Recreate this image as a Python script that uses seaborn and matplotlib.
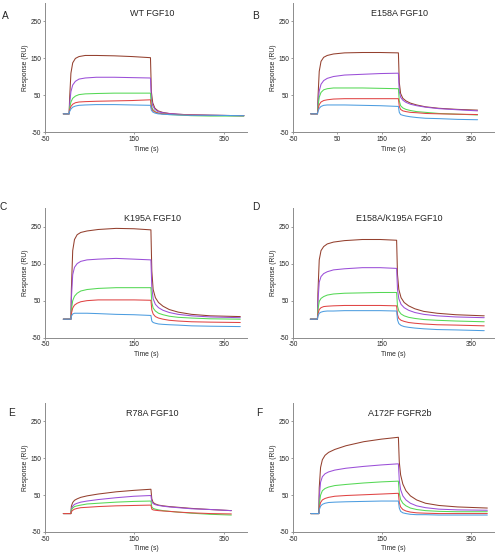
import pandas as pd
import matplotlib
import matplotlib.pyplot as plt
import seaborn as sns

matplotlib.use('Agg')

# Sensorgram colours (highest to lowest concentration)
COLORS = ['#94402e', '#9b4fd8', '#55d855', '#e04444', '#4d9de0']
CONC = ['c5', 'c4', 'c3', 'c2', 'c1']

# --- Panel A: WT FGF10 ---
time_a = [-9, 4, 5, 8, 12, 18, 26, 40, 65, 105, 145, 186,
          188, 191, 196, 203, 213, 227, 247, 277, 320, 395]
resp_a = [
    [0, 0, 40, 110, 138, 150, 155, 158, 158, 157, 155, 152, 60, 30, 15, 8, 4, 1, -1, -3, -4, -5],
    [0, 0, 25, 60, 78, 88, 94, 97, 99, 99, 98, 97, 40, 22, 12, 6, 3, 1, -1, -3, -4, -5],
    [0, 0, 15, 32, 42, 48, 52, 54, 55, 56, 56, 56, 22, 12, 6, 2, 0, -2, -3, -5, -6, -6],
    [0, 0, 10, 20, 26, 30, 32, 33, 34, 35, 36, 38, 16, 9, 5, 2, 0, -1, -2, -3, -4, -5],
    [0, 0, 6, 13, 18, 21, 23, 24, 25, 25, 24, 23, 10, 5, 2, 0, -1, -2, -3, -4, -4, -5],
]

# --- Panel B: E158A FGF10 ---
time_b = [-10, 5, 6, 9, 13, 19, 27, 41, 66, 106, 146, 187,
          189, 192, 197, 204, 214, 228, 248, 278, 320, 365]
resp_b = [
    [0, 0, 40, 115, 142, 153, 158, 162, 165, 166, 166, 165, 85, 55, 42, 35, 29, 24, 19, 15, 12, 10],
    [0, 0, 25, 62, 80, 90, 96, 101, 105, 107, 109, 110, 60, 45, 37, 31, 26, 22, 18, 14, 11, 8],
    [0, 0, 18, 45, 58, 65, 68, 70, 70, 70, 69, 68, 35, 22, 16, 12, 9, 6, 4, 1, -1, -3],
    [0, 0, 10, 25, 32, 36, 38, 40, 41, 41, 41, 41, 20, 12, 8, 6, 4, 3, 1, 0, -1, -2],
    [0, 0, 6, 15, 20, 23, 24, 24, 24, 23, 22, 20, 4, -2, -4, -6, -8, -10, -12, -13, -15, -16],
]

# --- Panel C: K195A FGF10 ---
time_c = [-9, 8, 9, 12, 16, 22, 30, 44, 69, 109, 149, 187,
          189, 192, 197, 204, 214, 228, 248, 278, 320, 387]
resp_c = [
    [0, 0, 80, 185, 215, 228, 234, 238, 242, 245, 244, 241, 130, 80, 58, 45, 35, 26, 19, 13, 9, 7],
    [0, 0, 55, 120, 140, 150, 156, 160, 162, 164, 162, 160, 85, 55, 40, 31, 24, 18, 13, 9, 6, 4],
    [0, 0, 25, 50, 62, 70, 76, 80, 83, 85, 85, 85, 45, 30, 22, 16, 12, 8, 5, 3, 1, 0],
    [0, 0, 15, 30, 38, 43, 47, 50, 52, 52, 52, 51, 25, 14, 7, 3, 0, -3, -5, -7, -8, -9],
    [0, 0, 8, 14, 16, 16, 16, 16, 15, 13, 12, 10, -5, -9, -11, -13, -14, -15, -16, -18, -19, -20],
]

# --- Panel D: E158A/K195A FGF10 ---
time_d = [-11, 5, 6, 9, 13, 19, 27, 41, 66, 106, 146, 183,
          185, 188, 193, 200, 210, 224, 244, 274, 316, 380]
resp_d = [
    [0, 0, 70, 160, 185, 196, 203, 208, 212, 215, 215, 213, 120, 80, 58, 45, 36, 28, 21, 16, 12, 9],
    [0, 0, 45, 100, 115, 123, 128, 133, 136, 139, 139, 137, 80, 55, 40, 31, 24, 18, 13, 9, 6, 4],
    [0, 0, 25, 48, 56, 61, 65, 68, 70, 71, 72, 72, 35, 22, 14, 9, 5, 2, -1, -3, -5, -7],
    [0, 0, 14, 26, 31, 34, 35, 36, 37, 37, 37, 36, 12, 2, -3, -6, -9, -11, -13, -15, -16, -18],
    [0, 0, 8, 16, 19, 21, 22, 22, 23, 23, 23, 22, -2, -12, -17, -20, -22, -24, -26, -28, -29, -31],
]

# --- Panel E: R78A FGF10 ---
time_e = [-9, 8, 9, 12, 16, 22, 30, 44, 69, 109, 149, 187,
          189, 192, 197, 204, 214, 228, 248, 278, 320, 367]
resp_e = [
    [0, 0, 20, 30, 36, 40, 44, 48, 53, 59, 63, 66, 40, 30, 26, 23, 21, 19, 17, 14, 11, 8],
    [0, 0, 13, 20, 25, 28, 31, 34, 38, 43, 47, 49, 32, 27, 24, 22, 20, 18, 16, 13, 11, 8],
    [0, 0, 10, 15, 19, 21, 23, 26, 28, 31, 33, 34, 18, 14, 12, 10, 8, 6, 4, 1, -2, -4],
    [0, 0, 5, 9, 12, 14, 16, 17, 19, 21, 22, 23, 12, 10, 9, 8, 7, 6, 4, 2, 0, -1],
]

# --- Panel F: A172F FGFR2b ---
time_f = [-10, 8, 9, 12, 16, 22, 30, 44, 69, 109, 149, 187,
          189, 192, 197, 204, 214, 228, 248, 278, 320, 387]
resp_f = [
    [0, 0, 70, 125, 146, 158, 166, 174, 184, 195, 202, 207, 140, 105, 80, 62, 48, 37, 28, 22, 18, 15],
    [0, 0, 45, 85, 100, 108, 113, 118, 123, 128, 132, 135, 90, 65, 48, 37, 28, 21, 16, 12, 10, 9],
    [0, 0, 25, 50, 62, 68, 72, 76, 79, 83, 86, 88, 55, 38, 28, 21, 15, 11, 8, 6, 5, 5],
    [0, 0, 15, 30, 37, 41, 44, 47, 49, 51, 53, 55, 30, 18, 11, 7, 4, 2, 1, 0, 0, 0],
    [0, 0, 10, 20, 25, 28, 30, 31, 32, 33, 34, 34, 15, 6, 2, 0, -2, -3, -3, -4, -4, -4],
]

PANELS = [
    ('A', 'WT FGF10', time_a, resp_a, [-50, 150, 350]),
    ('B', 'E158A FGF10', time_b, resp_b, [-50, 50, 150, 250, 350]),
    ('C', 'K195A FGF10', time_c, resp_c, [-50, 150, 350]),
    ('D', 'E158A/K195A FGF10', time_d, resp_d, [-50, 150, 350]),
    ('E', 'R78A FGF10', time_e, resp_e, [-50, 150, 350]),
    ('F', 'A172F FGFR2b', time_f, resp_f, [-50, 150, 350]),
]

sns.set_style('ticks')
plt.rcParams['font.family'] = ['Liberation Sans', 'DejaVu Sans']
plt.rcParams['axes.unicode_minus'] = False

W, H = 498, 557
fig = plt.figure(figsize=(W / 100, H / 100), dpi=100)

# axes boxes in pixels: (left, top, right, bottom)
col_px = [(45, 247), (293, 494)]
row_px = [(3, 132.3), (208, 337.7), (403, 532)]
letter_px = [(5, 15.7), (255.3, 15.7), (3.5, 206.7), (256.3, 206.7), (11.7, 413.3), (259.7, 413.3)]

grey = '#8c8c8c'
for i, (letter, title, times, curves, xticks) in enumerate(PANELS):
    x0, x1 = col_px[i % 2]
    y0, y1 = row_px[i // 2]
    ax = fig.add_axes([x0 / W, 1 - y1 / H, (x1 - x0) / W, (y1 - y0) / H])

    rows = []
    for conc, vals in zip(CONC, curves):
        for t, v in zip(times, vals):
            rows.append({'time': t, 'resp': v, 'conc': conc})
    df = pd.DataFrame(rows)
    pal = dict(zip(CONC, COLORS))
    sns.lineplot(data=df, x='time', y='resp', hue='conc', palette=pal,
                 estimator=None, sort=False, linewidth=0.75, legend=False, ax=ax)

    ax.set_xlim(-50, 402)
    ax.set_ylim(-50, 300)
    ax.set_xticks(xticks)
    ax.set_yticks([-50, 50, 150, 250])
    sns.despine(ax=ax)
    for side in ['left', 'bottom']:
        ax.spines[side].set_color(grey)
        ax.spines[side].set_linewidth(0.7)
    ax.tick_params(length=1.6, width=0.6, color=grey, pad=1, labelsize=4.7)
    ax.set_xlabel('Time (s)', fontsize=4.9, labelpad=2)
    ax.set_ylabel('Response (RU)', fontsize=4.9, labelpad=1)
    ax.text(0.53, 0.92, title, transform=ax.transAxes, ha='center', va='center', fontsize=6.5)

    lx, ly = letter_px[i]
    fig.text(lx / W, 1 - ly / H, letter, ha='center', va='center', fontsize=7.3)

fig.savefig('out.png', dpi=100)
